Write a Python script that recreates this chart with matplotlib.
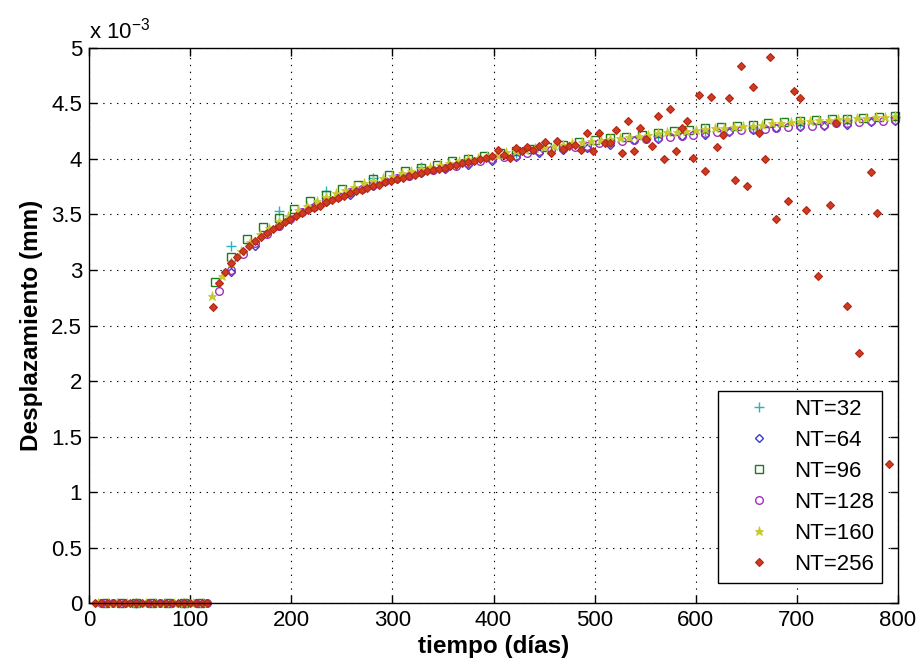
import matplotlib
matplotlib.use('Agg')
import matplotlib.pyplot as plt
from matplotlib.ticker import FormatStrFormatter

plt.rcParams['font.family'] = ['Liberation Sans', 'DejaVu Sans']

# desplazamiento en unidades de 1e-3 mm, tiempo en dias
t_nt32 = [46.9, 93.8, 140.6, 187.5, 234.4, 281.3, 328.1, 375.0, 421.9, 468.8,
          515.6, 562.5, 609.4, 656.3, 703.1, 750.0, 796.9]
d_nt32 = [0, 0, 3.22, 3.53, 3.71, 3.83, 3.93, 4.00, 4.05, 4.10,
          4.16, 4.21, 4.25, 4.28, 4.32, 4.35, 4.38]

t_nt64 = [23.4, 46.9, 70.3, 93.8, 117.2, 140.6, 164.1, 187.5, 210.9, 234.4,
          257.8, 281.3, 304.7, 328.1, 351.6, 375.0, 398.4, 421.9, 445.3, 468.8,
          492.2, 515.6, 539.1, 562.5, 585.9, 609.4, 632.8, 656.3, 679.7, 703.1,
          726.6, 750.0, 773.4, 796.9]
d_nt64 = [0, 0, 0, 0, 0, 2.98, 3.22, 3.40, 3.52, 3.61,
          3.68, 3.76, 3.82, 3.87, 3.91, 3.95, 3.98, 4.02, 4.05, 4.08,
          4.10, 4.13, 4.17, 4.18, 4.21, 4.22, 4.24, 4.26, 4.28, 4.29,
          4.30, 4.31, 4.33, 4.34]

t_nt96 = [15.6, 31.3, 46.9, 62.5, 78.1, 93.8, 109.4, 125.0, 140.6, 156.3,
          171.9, 187.5, 203.1, 218.8, 234.4, 250.0, 265.6, 281.3, 296.9, 312.5,
          328.1, 343.8, 359.4, 375.0, 390.6, 406.3, 421.9, 437.5, 453.1, 468.8,
          484.4, 500.0, 515.6, 531.3, 546.9, 562.5, 578.1, 593.8, 609.4, 625.0,
          640.6, 656.3, 671.9, 687.5, 703.1, 718.8, 734.4, 750.0, 765.6, 781.3,
          796.9]
d_nt96 = [0, 0, 0, 0, 0, 0, 0, 2.89, 3.12, 3.28,
          3.39, 3.47, 3.55, 3.62, 3.68, 3.73, 3.77, 3.82, 3.86, 3.89,
          3.92, 3.95, 3.98, 4.00, 4.03, 4.05, 4.07, 4.09, 4.11, 4.13,
          4.15, 4.17, 4.19, 4.20, 4.22, 4.23, 4.25, 4.26, 4.28, 4.29,
          4.30, 4.31, 4.32, 4.33, 4.34, 4.35, 4.36, 4.36, 4.37, 4.38,
          4.39]

t_nt128 = [11.7, 23.4, 35.2, 46.9, 58.6, 70.3, 82.0, 93.8, 105.5, 117.2,
           128.9, 140.6, 152.3, 164.1, 175.8, 187.5, 199.2, 210.9, 222.7, 234.4,
           246.1, 257.8, 269.5, 281.3, 293.0, 304.7, 316.4, 328.1, 339.8, 351.6,
           363.3, 375.0, 386.7, 398.4, 410.2, 421.9, 433.6, 445.3, 457.0, 468.8,
           480.5, 492.2, 503.9, 515.6, 527.3, 539.1, 550.8, 562.5, 574.2, 585.9,
           597.7, 609.4, 621.1, 632.8, 644.5, 656.3, 668.0, 679.7, 691.4, 703.1,
           714.8, 726.6, 738.3, 750.0, 761.7, 773.4, 785.2, 796.9]
d_nt128 = [0, 0, 0, 0, 0, 0, 0, 0, 0, 0,
           2.81, 3.00, 3.14, 3.24, 3.32, 3.40, 3.46, 3.52, 3.57, 3.62,
           3.66, 3.70, 3.73, 3.77, 3.80, 3.83, 3.85, 3.88, 3.90, 3.92,
           3.94, 3.96, 3.98, 4.00, 4.02, 4.03, 4.05, 4.07, 4.08, 4.10,
           4.11, 4.12, 4.14, 4.15, 4.16, 4.17, 4.18, 4.19, 4.20, 4.21,
           4.22, 4.23, 4.24, 4.25, 4.26, 4.27, 4.27, 4.28, 4.29, 4.30,
           4.30, 4.31, 4.32, 4.32, 4.33, 4.34, 4.34, 4.35]

t_nt160 = [9.4, 18.8, 28.1, 37.5, 46.9, 56.3, 65.6, 75.0, 84.4, 93.8,
           103.1, 112.5, 121.9, 131.3, 140.6, 150.0, 159.4, 168.8, 178.1, 187.5,
           196.9, 206.3, 215.6, 225.0, 234.4, 243.8, 253.1, 262.5, 271.9, 281.3,
           290.6, 300.0, 309.4, 318.8, 328.1, 337.5, 346.9, 356.3, 365.6, 375.0,
           384.4, 393.8, 403.1, 412.5, 421.9, 431.3, 440.6, 450.0, 459.4, 468.8,
           478.1, 487.5, 496.9, 506.3, 515.6, 525.0, 534.4, 543.8, 553.1, 562.5,
           571.9, 581.3, 590.6, 600.0, 609.4, 618.8, 628.1, 637.5, 646.9, 656.3,
           665.6, 675.0, 684.4, 693.8, 703.1, 712.5, 721.9, 731.3, 740.6, 750.0,
           759.4, 768.8, 778.1, 787.5, 796.9]
d_nt160 = [0, 0, 0, 0, 0, 0, 0, 0, 0, 0,
           0, 0, 2.77, 2.95, 3.07, 3.17, 3.25, 3.32, 3.38, 3.44,
           3.49, 3.54, 3.58, 3.62, 3.66, 3.69, 3.72, 3.75, 3.78, 3.80,
           3.83, 3.85, 3.87, 3.89, 3.91, 3.93, 3.95, 3.96, 3.98, 4.00,
           4.01, 4.03, 4.04, 4.06, 4.07, 4.08, 4.10, 4.11, 4.12, 4.13,
           4.14, 4.15, 4.16, 4.17, 4.18, 4.19, 4.20, 4.21, 4.22, 4.23,
           4.24, 4.24, 4.25, 4.26, 4.27, 4.28, 4.28, 4.29, 4.30, 4.30,
           4.31, 4.32, 4.32, 4.33, 4.34, 4.34, 4.35, 4.35, 4.36, 4.36,
           4.37, 4.37, 4.38, 4.38, 4.39]

# NT=256: solo los puntos que caen dentro de los ejes
t_nt256 = [5.9, 11.7, 17.6, 23.4, 29.3, 35.2, 41.0, 46.9, 52.7, 58.6,
           64.5, 70.3, 76.2, 82.0, 87.9, 93.8, 99.6, 105.5, 111.3, 117.2,
           123.0, 128.9, 134.8, 140.6, 146.5, 152.3, 158.2, 164.1, 169.9, 175.8,
           181.6, 187.5, 193.4, 199.2, 205.1, 210.9, 216.8, 222.7, 228.5, 234.4,
           240.2, 246.1, 252.0, 257.8, 263.7, 269.5, 275.4, 281.3, 287.1, 293.0,
           298.8, 304.7, 310.5, 316.4, 322.3, 328.1, 334.0, 339.8, 345.7, 351.6,
           357.4, 363.3, 369.1, 375.0, 380.9, 386.7, 392.6, 398.4, 404.3, 410.2,
           416.0, 421.9, 427.7, 433.6, 439.5, 445.3, 451.2, 457.0, 462.9, 468.8,
           474.6, 480.5, 486.3, 492.2, 498.0, 503.9, 509.8, 515.6, 521.5, 527.3,
           533.2, 539.1, 544.9, 550.8, 556.6, 562.5, 568.4, 574.2, 580.1, 585.9,
           591.8, 597.7, 603.5, 609.4, 615.2, 621.1, 627.0, 632.8, 638.7, 644.5,
           650.4, 656.3, 662.1, 668.0, 673.8, 679.7, 691.4, 697.3, 703.1, 709.0,
           720.7, 732.4, 738.3, 750.0, 761.7, 773.4, 779.3, 791.0]
d_nt256 = [0, 0, 0, 0, 0, 0, 0, 0, 0, 0,
           0, 0, 0, 0, 0, 0, 0, 0, 0, 0,
           2.67, 2.88, 2.98, 3.06, 3.12, 3.17, 3.22, 3.26, 3.30, 3.33,
           3.37, 3.40, 3.43, 3.46, 3.49, 3.51, 3.54, 3.56, 3.58, 3.61,
           3.63, 3.65, 3.67, 3.69, 3.71, 3.72, 3.74, 3.76, 3.77, 3.79,
           3.80, 3.82, 3.83, 3.85, 3.86, 3.87, 3.89, 3.90, 3.91, 3.92,
           3.94, 3.95, 3.96, 3.97, 3.98, 4.00, 4.01, 4.03, 4.08, 4.04,
           4.01, 4.10, 4.07, 4.11, 4.08, 4.12, 4.15, 4.05, 4.16, 4.09,
           4.12, 4.13, 4.08, 4.23, 4.07, 4.23, 4.14, 4.14, 4.26, 4.05,
           4.34, 4.07, 4.28, 4.18, 4.12, 4.39, 4.00, 4.45, 4.07, 4.28,
           4.34, 4.01, 4.58, 3.89, 4.56, 4.11, 4.22, 4.55, 3.81, 4.84,
           3.76, 4.65, 4.23, 4.00, 4.92, 3.46, 3.62, 4.61, 4.55, 3.54,
           2.95, 3.59, 4.32, 2.68, 2.25, 3.88, 3.51, 1.25]

labels = ['NT=32', 'NT=64', 'NT=96', 'NT=128', 'NT=160', 'NT=256']
x_ticks = [0, 100, 200, 300, 400, 500, 600, 700, 800]
y_ticks = [0, 0.5, 1, 1.5, 2, 2.5, 3, 3.5, 4, 4.5, 5]

fig = plt.figure(figsize=(9.22, 6.71), dpi=100)
ax = fig.add_axes([0.0965, 0.1013, 0.8775, 0.8272])

ax.plot(t_nt32, d_nt32, ls='none', marker='+', ms=6.5, mew=1.0, color='#20B8C0',
        label=labels[0], clip_on=False)
ax.plot(t_nt64, d_nt64, ls='none', marker='D', ms=4.5, mew=1.0, mfc='none',
        color='#3A3AD0', label=labels[1], clip_on=False)
ax.plot(t_nt96, d_nt96, ls='none', marker='s', ms=5.5, mew=1.0, mfc='none',
        color='#1E7A1E', label=labels[2], clip_on=False)
ax.plot(t_nt128, d_nt128, ls='none', marker='o', ms=5.5, mew=1.0, mfc='none',
        color='#A030C0', label=labels[3], clip_on=False)
ax.plot(t_nt160, d_nt160, ls='none', marker='*', ms=6.5, mew=0.6,
        color='#C8C830', label=labels[4], clip_on=False)
ax.plot(t_nt256, d_nt256, ls='none', marker='D', ms=4.5, mew=0.8,
        color='#D03A1E', mec='#B02818', label=labels[5], clip_on=False)

ax.set_xlim(0, 800)
ax.set_ylim(0, 5)
ax.set_xticks(x_ticks)
ax.set_yticks(y_ticks)
ax.yaxis.set_major_formatter(FormatStrFormatter('%g'))
ax.tick_params(direction='in', length=6, width=1, top=True, right=True,
               labelsize=16, pad=5)
for s in ax.spines.values():
    s.set_linewidth(1.0)
ax.grid(True, color='black', linestyle=(0, (1.2, 5)), linewidth=0.8)
ax.set_axisbelow(True)

ax.set_xlabel('tiempo (días)', fontsize=17.5, fontweight='bold', labelpad=3)
ax.set_ylabel('Desplazamiento (mm)', fontsize=17.5, fontweight='bold', labelpad=6)
ax.text(0.0, 1.008, r'x 10$^{\mathregular{-3}}$', transform=ax.transAxes,
        fontsize=16, ha='left', va='bottom')

leg = ax.legend(loc='lower right', bbox_to_anchor=(882 / 922, 1 - 583 / 671),
                bbox_transform=fig.transFigure, borderaxespad=0,
                fontsize=16, frameon=True, fancybox=False,
                edgecolor='black', framealpha=1, labelspacing=0.45,
                handlelength=3.0, handletextpad=0.1, borderpad=0.35)
leg.get_frame().set_linewidth(1.0)

fig.savefig('out.png', dpi=100)
